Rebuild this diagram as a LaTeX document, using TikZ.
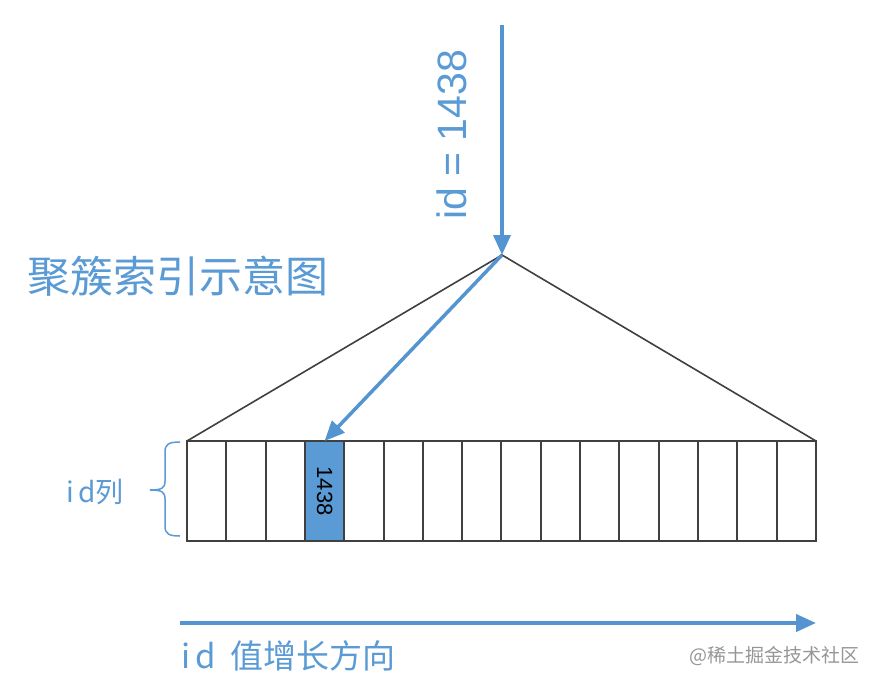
\documentclass[tikz,border=0pt]{standalone}
\usepackage{fontspec}
\setmainfont{Liberation Sans}
\newfontfamily\cjk{Noto Sans CJK SC}
\usetikzlibrary{arrows.meta}
\definecolor{mblue}{RGB}{91,155,213}
\definecolor{lblue}{RGB}{84,148,208}
\definecolor{dline}{RGB}{64,64,64}
\definecolor{wgray}{RGB}{150,150,150}
\tikzset{
  cellbox/.style={draw=dline,line width=2pt,minimum width=39.31pt,minimum height=100pt,inner sep=0pt,outer sep=0pt,anchor=north west},
  bluearrow/.style={draw=lblue,line width=3.5pt,-{Triangle[length=20pt,width=17pt]}},
  treeline/.style={draw=dline,line width=1.6pt},
  bluetext/.style={text=mblue,inner sep=0pt},
}
\begin{document}
\begin{tikzpicture}[x=1pt,y=-1pt]
\useasboundingbox (0,0) rectangle (878,686);
\fill[white] (0,0) rectangle (878,686);
% cells
\foreach \i in {1,...,16}{
  \node[cellbox] (c\i) at ({187+(\i-1)*39.31},441) {};
}
\node[cellbox,fill=mblue] (c4b) at ({187+3*39.31},441) {};
\node[rotate=-90,font=\fontsize{22}{22}\selectfont,inner sep=0pt] (v) at (c4b.center) {1438};
% tree
\coordinate (top) at (502,25);
\coordinate (apex) at (502,255);
\draw[treeline] (c1.north west) -- (apex) -- (c16.north east);
\draw[bluearrow] (top) -- (apex);
\draw[bluearrow] (apex) -- (c4b.north);
\node[bluetext,rotate=90,font=\fontsize{41}{41}\selectfont] (q) at (452,135) {id = 1438};
% title
\node[bluetext,anchor=west,font=\cjk\fontsize{43}{43}\selectfont] (title) at (27,276) {聚簇索引示意图};
% brace
\draw[mblue,line width=1.5pt] (180,442) .. controls (169,442) and (165,444) .. (165,452) -- (165,481) .. controls (165,488) and (162,490) .. (150,490);
\draw[mblue,line width=1.5pt] (180,536) .. controls (169,536) and (165,534) .. (165,526) -- (165,499) .. controls (165,492) and (162,490) .. (150,490);
\node[bluetext,anchor=west,font=\cjk\fontsize{28}{28}\selectfont] (idl) at (66,492) {i\,d列};
% bottom arrow
\coordinate (s) at (180,623);
\coordinate (e) at (816,623);
\draw[bluearrow,line width=4pt] (s) -- (e);
\node[bluetext,anchor=west,font=\cjk\fontsize{33}{33}\selectfont] (dir) at (181,656) {i\,d\hspace{14pt}值增长方向};
\node[anchor=east,text=wgray,inner sep=0pt,font=\cjk\fontsize{19}{19}\selectfont] (wm) at (860,656) {@稀土掘金技术社区};
\end{tikzpicture}
\end{document}
